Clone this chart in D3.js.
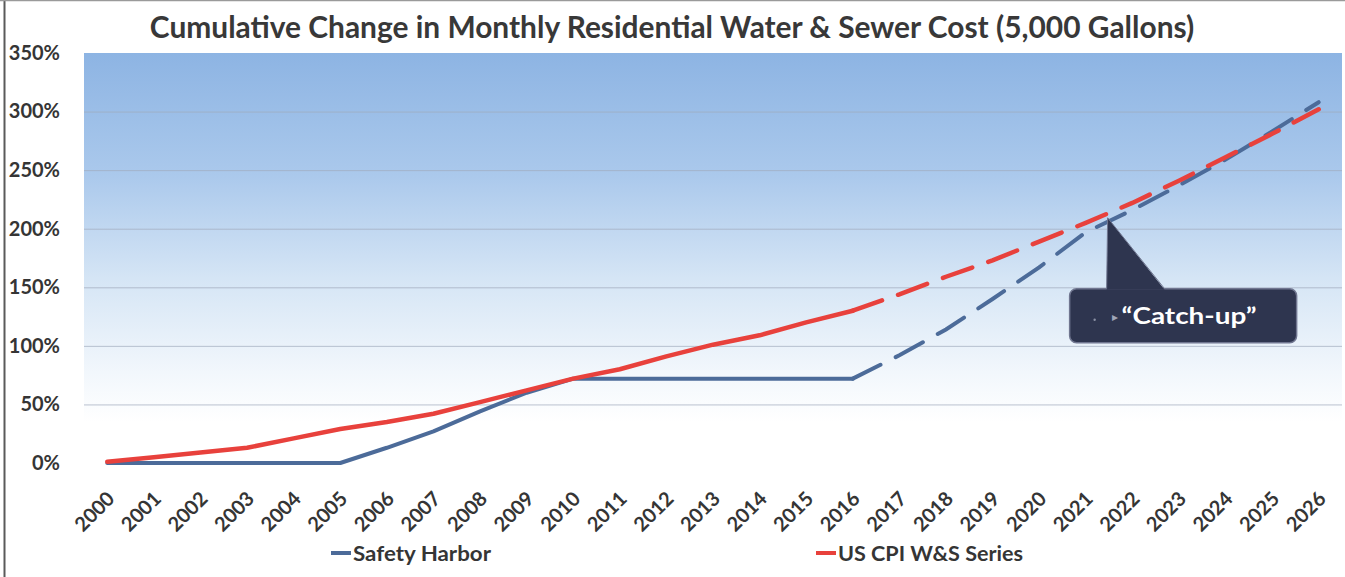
<!DOCTYPE html>
<html><head><meta charset="utf-8">
<script src="https://cdn.jsdelivr.net/npm/d3@7"></script>
<style>
html,body{margin:0;padding:0;background:#fff;}
svg{display:block;}
text{font-family:"Lato","Open Sans",sans-serif;}
</style></head><body>
<svg id="chart" width="1345" height="577"></svg>
<script>
// ---------- data ----------
const years = ["2000","2001","2002","2003","2004","2005","2006","2007","2008","2009",
  "2010","2011","2012","2013","2014","2015","2016","2017","2018","2019",
  "2020","2021","2022","2023","2024","2025","2026"];
const safetyHarbor = [0,0,0,0,0,0,13,27,44,60,72,72,72,72,72,72,72,92,114,140,167,197,216,237,259,283,308];
const usCpi = [1,5,9,13,21,29,35,42,52,62,72,80,91,101,109,120,130,144,159,173,189,205,222,241,261,281,302];
const yTicks = [0,50,100,150,200,250,300,350];
const projectionStart = "2016";
const seriesNames = ["Safety Harbor","US CPI W&S Series"];
const titleText = "Cumulative Change in Monthly Residential Water & Sewer Cost (5,000 Gallons)";
const calloutText = "\u201CCatch-up\u201D";
const calloutFrom = "2021", calloutTo = "2022", calloutT = 0.47;

// ---------- layout ----------
const W = 1345, H = 577;
const plot = {left: 84, right: 1342, top: 53, bottom: 463};
const svg = d3.select("#chart");

const x = d3.scalePoint().domain(years).range([plot.left, plot.right]).padding(0.5);
const y = d3.scaleLinear().domain([0, 350]).range([plot.bottom, plot.top]);

function fitWidth(sel, target){
  const w = sel.node().getComputedTextLength();
  if (w > 0) sel.attr("textLength", target).attr("lengthAdjust","spacingAndGlyphs");
}

// outer frame
svg.append("line").attr("x1",4.5).attr("x2",4.5).attr("y1",0).attr("y2",H)
  .attr("stroke","#5a5a5a").attr("stroke-width",2);
svg.append("line").attr("x1",0).attr("x2",W).attr("y1",0.5).attr("y2",0.5)
  .attr("stroke","#9a9a9a").attr("stroke-width",1.5);

// background gradient
const defs = svg.append("defs");
const grad = defs.append("linearGradient").attr("id","bg").attr("x1",0).attr("x2",0).attr("y1",0).attr("y2",1);
[[0,"#8db4e3"],[0.3,"#abc9ec"],[0.55,"#d5e5f5"],[0.78,"#f2f7fc"],[0.9,"#ffffff"],[1,"#ffffff"]]
  .forEach(([o,c]) => grad.append("stop").attr("offset",o).attr("stop-color",c));
svg.append("rect").attr("x",plot.left).attr("y",plot.top)
  .attr("width",plot.right-plot.left).attr("height",plot.bottom-plot.top)
  .attr("fill","url(#bg)");

// gridlines
svg.append("g").attr("transform",`translate(${plot.left},0)`)
  .call(d3.axisLeft(y).tickValues(yTicks.filter(t=>t>0 && t<350)).tickSize(-(plot.right-plot.left)).tickFormat(""))
  .call(g => g.select(".domain").remove())
  .call(g => g.selectAll("line").attr("stroke","#9fa9bc").attr("stroke-opacity",0.7));

// y labels
svg.append("g").attr("transform",`translate(${plot.left},0)`)
  .call(d3.axisLeft(y).tickValues(yTicks).tickSize(0).tickPadding(24).tickFormat(d => d + "%"))
  .call(g => g.select(".domain").remove())
  .call(g => g.selectAll("text").attr("font-size",20).attr("font-weight",700)
    .attr("fill","#353535").style("font-family","Lato, sans-serif"));

// x labels
const xg = svg.append("g").attr("transform",`translate(0,${plot.bottom})`)
  .call(d3.axisBottom(x).tickSize(0).tickFormat(d => d))
  .call(g => g.select(".domain").remove());
xg.selectAll(".tick text")
  .attr("font-size",20).attr("font-weight",700).attr("fill","#353535")
  .style("font-family","Lato, sans-serif")
  .attr("text-anchor","end").attr("dy",0).attr("y",0)
  .attr("transform","translate(8,37) rotate(-45)");

// lines
const idx = years.indexOf(projectionStart);
const line = d3.line().x(d=>x(d.year)).y(d=>y(d.v));
function drawSeries(values, color, width){
  const pts = years.map((yr,i)=>({year:yr, v:values[i]}));
  svg.append("path").datum(pts.slice(0, idx+1)).attr("d", line)
    .attr("fill","none").attr("stroke",color).attr("stroke-width",width)
    .attr("stroke-linejoin","round").attr("stroke-linecap","round");
  svg.append("path").datum(pts.slice(idx)).attr("d", line)
    .attr("fill","none").attr("stroke",color).attr("stroke-width",width)
    .attr("stroke-dasharray","31,17").attr("stroke-linecap","round");
}
const blue = "#4c6b99", red = "#e8413c";
drawSeries(safetyHarbor, blue, 4);
drawSeries(usCpi, red, 4.5);

// callout
const i0 = years.indexOf(calloutFrom), i1 = years.indexOf(calloutTo);
const tipX = x(calloutFrom) + calloutT*(x(calloutTo)-x(calloutFrom));
const tipY = y(safetyHarbor[i0] + calloutT*(safetyHarbor[i1]-safetyHarbor[i0])) - 4;
const rect = {x: tipX-38, y: tipY+71, w: 227, h: 54};
const cg = svg.append("g");
cg.append("rect").attr("x",rect.x).attr("y",rect.y).attr("width",rect.w).attr("height",rect.h)
  .attr("rx",7).attr("fill","#2e354f").attr("stroke","#707690").attr("stroke-width",1.5);
cg.append("path").attr("d",`M${tipX},${tipY} L${tipX+57},${rect.y+1} L${tipX-1},${rect.y+1} Z`)
  .attr("fill","#2e354f");
cg.append("path").attr("d",`M${tipX},${tipY} L${tipX+57},${rect.y} M${tipX},${tipY} L${tipX-1},${rect.y}`)
  .attr("stroke","#707690").attr("stroke-width",1).attr("fill","none");
cg.append("circle").attr("cx",rect.x+25).attr("cy",rect.y+rect.h/2+4).attr("r",1.2).attr("fill","#8a90a4");
cg.append("text").attr("x",rect.x+42).attr("y",rect.y+rect.h/2+5)
  .attr("font-size",12).attr("fill","#a0a6b8").text("\u25B8");
const ct = cg.append("text").attr("x",rect.x+52).attr("y",rect.y+rect.h/2+8)
  .attr("font-size",23).attr("font-weight",700).attr("fill","#ffffff")
  .style("font-family","Lato, sans-serif").text(calloutText);
fitWidth(ct, 135);

// title
const t = svg.append("text").attr("x",672).attr("y",38).attr("text-anchor","middle")
  .attr("font-weight",700).attr("fill","#383838").attr("font-size",28).text(titleText);
const tw = t.node().getComputedTextLength();
t.attr("font-size", 28*1045/tw);

// legend
const legend = [
  {name: seriesNames[0], color: blue, x: 331, w: 138},
  {name: seriesNames[1], color: red, x: 816, w: 185}
];
legend.forEach(l => {
  svg.append("line").attr("x1",l.x).attr("x2",l.x+20).attr("y1",553).attr("y2",553)
    .attr("stroke",l.color).attr("stroke-width",4);
  const lt = svg.append("text").attr("x",l.x+22).attr("y",561).attr("font-size",21).attr("font-weight",700)
    .attr("fill","#353535").text(l.name);
  fitWidth(lt, l.w);
});
</script>
</body></html>
